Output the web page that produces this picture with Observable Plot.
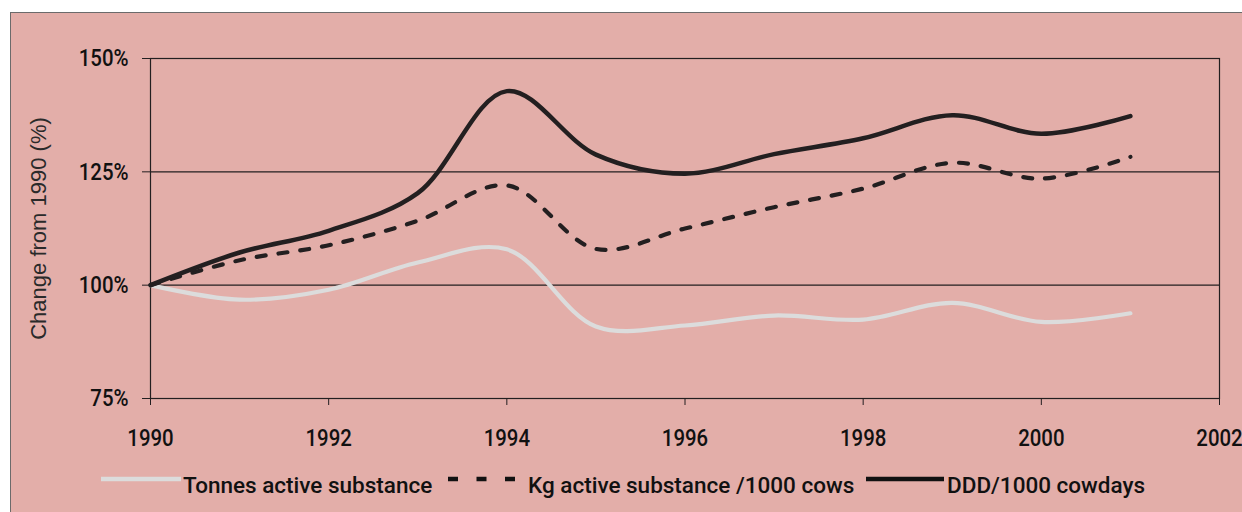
<!DOCTYPE html>
<html>
<head>
<meta charset="utf-8">
<script src="https://cdn.jsdelivr.net/npm/d3@7"></script>
<script src="https://cdn.jsdelivr.net/npm/@observablehq/plot@0.6"></script>
<style>
  html, body { margin: 0; padding: 0; background: #ffffff; width: 1242px; height: 512px; overflow: hidden; }
  #panel { position: absolute; left: 10px; top: 12px; width: 1240px; height: 510px;
           background: #e3aea9; border-left: 1.5px solid #6b6b6b; border-top: 1.5px solid #6b6b6b; }
  #chart { position: absolute; left: 0; top: 0; }
  #legend { position: absolute; left: 0; top: 460px; }
</style>
</head>
<body>
<div id="panel"></div>
<div id="chart"></div>
<div id="legend"></div>
<script>
// ---- data ----
const years = [1990, 1991, 1992, 1993, 1994, 1995, 1996, 1997, 1998, 1999, 2000, 2001];
const seriesNames = ["Tonnes active substance", "Kg active substance /1000 cows", "DDD/1000 cowdays"];
const tonnesActive = [100, 96.8, 99.0, 105.0, 107.9, 90.9, 91.1, 93.3, 92.4, 96.1, 91.9, 93.8];
const kgPer1000Cows = [100, 105.5, 108.8, 114.2, 122.0, 108.0, 112.5, 117.2, 121.3, 127.0, 123.5, 128.3];
const dddPer1000Cowdays = [100, 107.2, 112.0, 120.3, 142.8, 128.8, 124.6, 128.9, 132.4, 137.5, 133.4, 137.3];
const xTicks = [1990, 1992, 1994, 1996, 1998, 2000, 2002];
const yTicks = [75, 100, 125, 150];
const gridLines = [100, 125];
const yLabel = "Change from 1990 (%)";

const rows = (vals) => years.map((yr, i) => ({year: yr, value: vals[i]}));
const ink = "#231f20";
const greyLine = "#dcdcdc";
const labelFont = "Roboto, 'Liberation Sans', sans-serif";

const chart = Plot.plot({
  width: 1242,
  height: 460,
  marginLeft: 150,
  marginRight: 23,
  marginTop: 58,
  marginBottom: 62,
  style: {background: "transparent", fontFamily: labelFont, fontSize: "24px", color: "#111", overflow: "visible"},
  x: {domain: [1990, 2002]},
  y: {domain: [75, 150]},
  marks: [
    Plot.ruleY(gridLines, {stroke: ink, strokeWidth: 1.2}),
    Plot.frame({stroke: ink, strokeWidth: 1.2}),
    Plot.axisY({ticks: yTicks, tickSize: 8, tickPadding: 14, tickFormat: d => d + "%",
                fontWeight: 500, stroke: null, fill: "#111", label: null, className: "tick-label"}),
    Plot.axisY({ticks: yTicks, tickSize: 8, text: null, stroke: ink, label: null}),
    Plot.axisY({ticks: [], label: yLabel, labelAnchor: "center", labelArrow: "none", labelOffset: 120,
                fontFamily: "'Liberation Sans', sans-serif", fontSize: 22, fontWeight: "normal", fill: "#2a2a2a"}),
    Plot.axisX({ticks: xTicks, tickSize: 7, tickPadding: 23, tickFormat: d => String(d),
                fontWeight: 500, fill: "#111", stroke: ink, label: null, className: "tick-label"}),
    Plot.line(rows(tonnesActive), {x: "year", y: "value", stroke: greyLine, strokeWidth: 4.2, curve: "catmull-rom"}),
    Plot.line(rows(kgPer1000Cows), {x: "year", y: "value", stroke: ink, strokeWidth: 4.2, strokeDasharray: "9,13", curve: "catmull-rom"}),
    Plot.line(rows(dddPer1000Cowdays), {x: "year", y: "value", stroke: ink, strokeWidth: 4.5, curve: "catmull-rom"})
  ]
});
document.getElementById("chart").appendChild(chart);

// condense the tick-label glyphs horizontally (the reference uses a narrow face)
d3.select(chart).selectAll("g.tick-label text, g[aria-label='y-axis tick label'] text, g[aria-label='x-axis tick label'] text")
  .each(function() {
    const t = this.getAttribute("transform") || "";
    if (!t.includes("scale")) this.setAttribute("transform", t + " scale(0.85,1)");
  });

// ---- legend (below the chart) ----
const legendItems = [
  {name: seriesNames[0], stroke: greyLine, dash: null, x1: 101, x2: 181, tx: 183},
  {name: seriesNames[1], stroke: "#111", dash: "10,18.5", x1: 448, x2: 516, tx: 528},
  {name: seriesNames[2], stroke: "#111", dash: null, x1: 866, x2: 944, tx: 947}
];
const lg = d3.select("#legend").append("svg").attr("width", 1242).attr("height", 52);
const g = lg.selectAll("g").data(legendItems).join("g");
g.append("line")
  .attr("x1", d => d.x1).attr("x2", d => d.x2).attr("y1", 19).attr("y2", 19)
  .attr("stroke", d => d.stroke).attr("stroke-width", 4.5)
  .attr("stroke-dasharray", d => d.dash);
g.append("text")
  .attr("x", d => d.tx).attr("y", 33)
  .attr("font-family", labelFont).attr("font-size", 22.5).attr("font-weight", 500)
  .attr("fill", "#111")
  .text(d => d.name);
</script>
</body>
</html>
